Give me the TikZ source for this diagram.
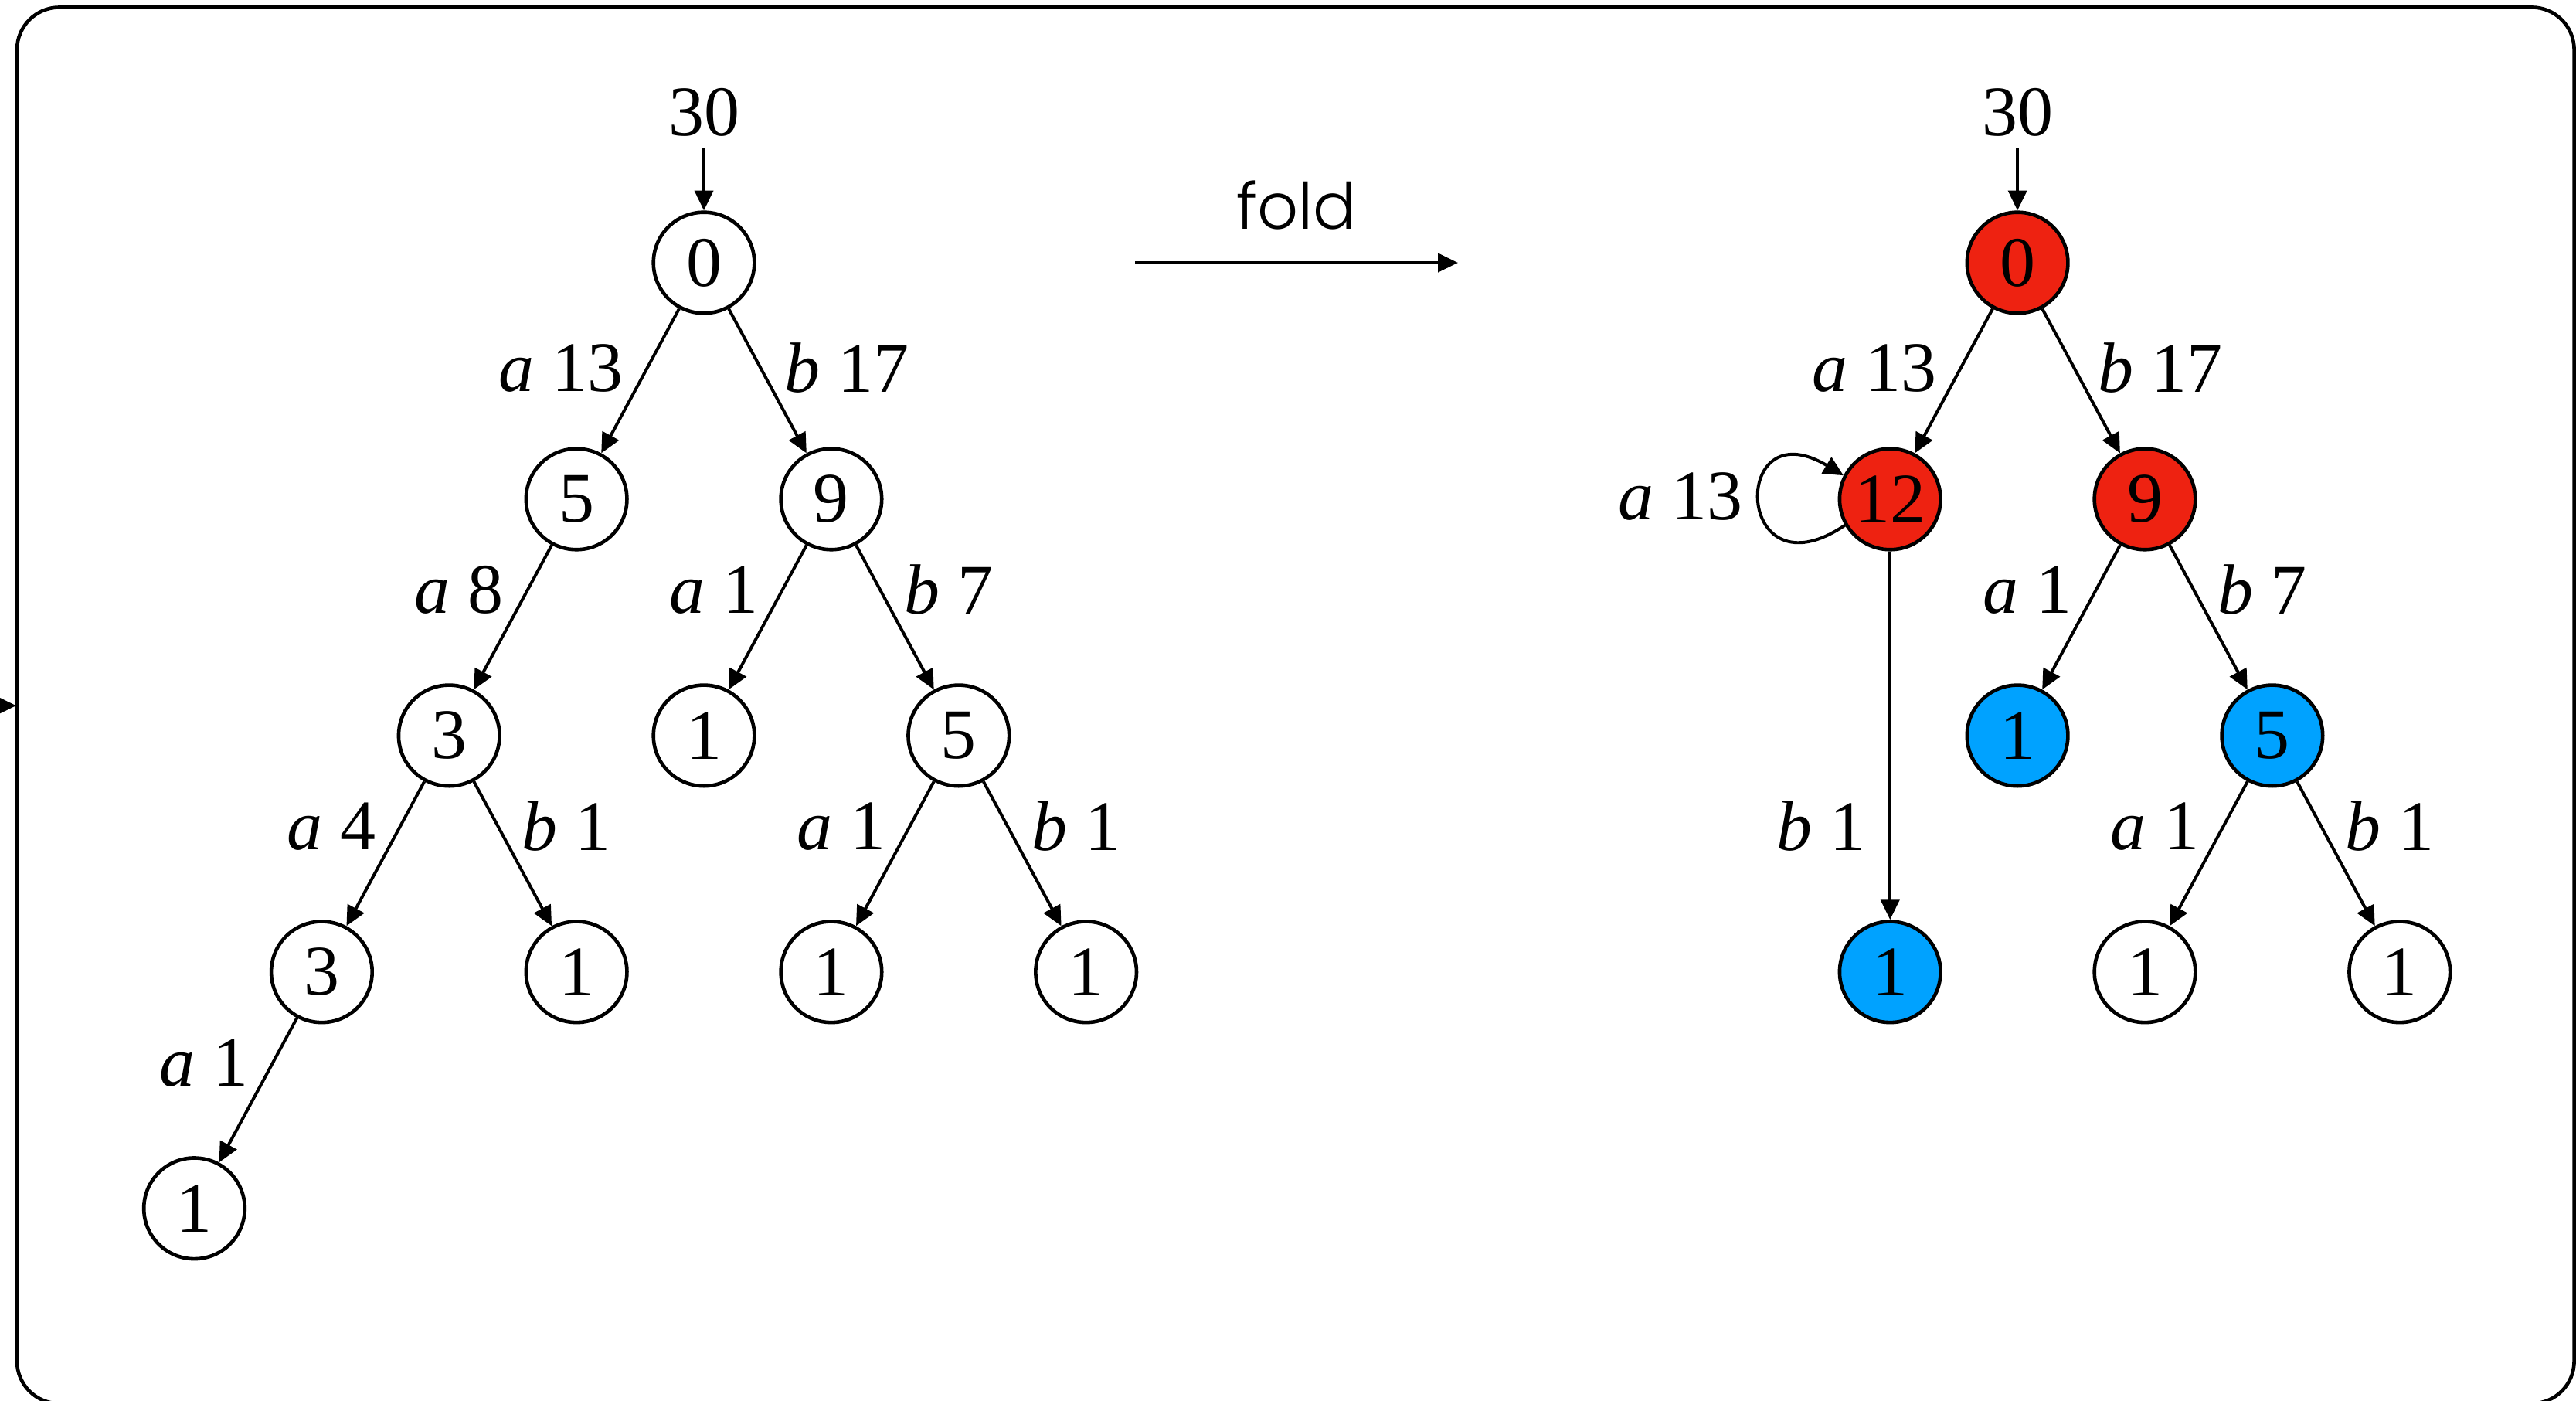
\documentclass[tikz,border=0pt]{standalone}
\usepackage{fontspec}
\setmainfont{Liberation Serif}
\newfontfamily\foldfont{Poppins}[UprightFont=* Light]
\usetikzlibrary{positioning, arrows.meta}

\definecolor{foldred}{RGB}{238,34,17}
\definecolor{foldblue}{RGB}{0,162,255}

\newcommand{\lab}[2]{\textit{#1} #2}

\begin{document}
\begin{tikzpicture}[
        on grid,
        node distance=1.169cm and 0.630cm,
        state/.style={circle, draw=black, line width=0.5pt, minimum size=14.2pt, inner sep=0pt, font=\fontsize{10}{12}\selectfont},
        hot/.style={state, fill=foldred},
        cold/.style={state, fill=foldblue},
        arrow/.style={-{Triangle[length=2.8pt, width=2.6pt]}, line width=0.43pt},
        elabel/.style={font=\fontsize{10}{12}\selectfont, inner sep=3.2pt},
        frame/.style={draw=black, line width=0.5pt, rounded corners=0.21cm}
    ]

    \useasboundingbox (0,0) rectangle (12.739,-6.927);

    % Outer frame and the arrow coming into it
    \draw[frame] (0.084,-0.036) rectangle (12.73,-6.94);
    \coordinate (inL) at (-0.3,-3.489);
    \coordinate (inR) at (0.080,-3.489);
    \draw[arrow] (inL) -- (inR);

    % Left tree
    \node[state] (l0) at (3.481,-1.299) {0};
    \node[state, below left=of l0] (l5) {5};
    \node[state, below right=of l0] (l9) {9};
    \node[state, below left=of l5] (l3) {3};
    \node[state, below left=of l9] (l1a) {1};
    \node[state, below right=of l9] (l5b) {5};
    \node[state, below left=of l3] (l3b) {3};
    \node[state, below right=of l3] (l1b) {1};
    \node[state, below left=of l5b] (l1c) {1};
    \node[state, below right=of l5b] (l1d) {1};
    \node[state, below left=of l3b] (l1e) {1};

    \node[elabel, inner sep=1.5pt, above=0.745cm of l0] (l30) {30};
    \draw[arrow] (l30.south) -- (l0);

    \draw[arrow] (l0) -- (l5) node[elabel, pos=0.41, left] {\lab{a}{13}};
    \draw[arrow] (l0) -- (l9) node[elabel, pos=0.41, right] {\lab{b}{17}};
    \draw[arrow] (l5) -- (l3) node[elabel, pos=0.31, left] {\lab{a}{8}};
    \draw[arrow] (l9) -- (l1a) node[elabel, pos=0.31, left] {\lab{a}{1}};
    \draw[arrow] (l9) -- (l5b) node[elabel, pos=0.31, right] {\lab{b}{7}};
    \draw[arrow] (l3) -- (l3b) node[elabel, pos=0.31, left] {\lab{a}{4}};
    \draw[arrow] (l3) -- (l1b) node[elabel, pos=0.31, right] {\lab{b}{1}};
    \draw[arrow] (l5b) -- (l1c) node[elabel, pos=0.31, left] {\lab{a}{1}};
    \draw[arrow] (l5b) -- (l1d) node[elabel, pos=0.31, right] {\lab{b}{1}};
    \draw[arrow] (l3b) -- (l1e) node[elabel, pos=0.31, left] {\lab{a}{1}};

    % Fold step
    \coordinate (foldA) at (5.613,-1.299);
    \coordinate (foldB) at (7.210,-1.299);
    \draw[arrow] (foldA) -- (foldB)
        node[midway, above=4.4pt, inner sep=0pt, font=\foldfont\fontsize{9}{10}\selectfont] {fold};

    % Right tree
    \node[hot] (r0) at (9.977,-1.299) {0};
    \node[hot, below left=of r0] (r12) {12};
    \node[hot, below right=of r0] (r9) {9};
    \node[cold, below left=of r9] (r1a) {1};
    \node[cold, below right=of r9] (r5) {5};
    \node[cold, below=2.338cm of r12] (r1b) {1};
    \node[state, below left=of r5] (r1c) {1};
    \node[state, below right=of r5] (r1d) {1};

    \node[elabel, inner sep=1.5pt, above=0.745cm of r0] (r30) {30};
    \draw[arrow] (r30.south) -- (r0);

    \draw[arrow] (r0) -- (r12) node[elabel, pos=0.41, left] {\lab{a}{13}};
    \draw[arrow] (r0) -- (r9) node[elabel, pos=0.41, right] {\lab{b}{17}};
    \draw[arrow] (r12.210) to[out=214, in=149, distance=0.66cm]
        node[elabel, left, xshift=1pt, yshift=0.8pt] {\lab{a}{13}} (r12.153);
    \draw[arrow] (r12) -- (r1b) node[elabel, pos=0.745, left] {\lab{b}{1}};
    \draw[arrow] (r9) -- (r1a) node[elabel, pos=0.31, left] {\lab{a}{1}};
    \draw[arrow] (r9) -- (r5) node[elabel, pos=0.31, right] {\lab{b}{7}};
    \draw[arrow] (r5) -- (r1c) node[elabel, pos=0.31, left] {\lab{a}{1}};
    \draw[arrow] (r5) -- (r1d) node[elabel, pos=0.31, right] {\lab{b}{1}};

\end{tikzpicture}
\end{document}
